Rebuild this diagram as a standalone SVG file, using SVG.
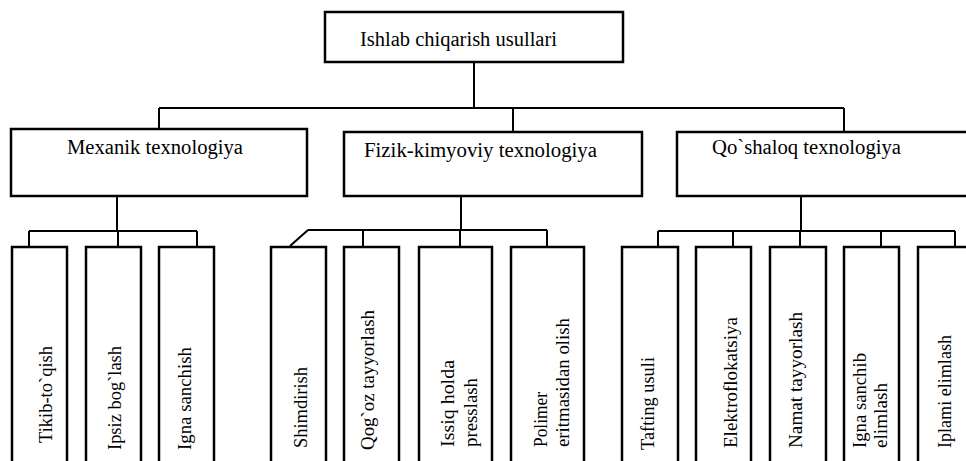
<svg xmlns="http://www.w3.org/2000/svg" width="966" height="461" viewBox="0 0 966 461">
<style>
.box{fill:#fff;stroke:#000;stroke-width:2.5}
.ln{fill:none;stroke:#000;stroke-width:2}
.t{font-family:'Liberation Serif','DejaVu Serif',serif;font-size:19px;fill:#000}
.h{font-size:20px}
</style>
<rect width="966" height="461" fill="#fff"/>
<g id="connectors" class="ln">
<path d="M474 62V108M159 108H844M159 108V129M513 108V132M844 108V132"/>
<path d="M117 196V231M29 231H197M29 231V247M118 231V247M197 231V247"/>
<path d="M461 196V230M308 230H547M308 230L290 246M363 230V247M460 230V247M547 230V247"/>
<path d="M801 196V231M658 231H955M658 231V247M733 231V247M800 231V247M881 231V247M955 231V247"/>
</g>
<g id="root"><rect class="box" x="325" y="12" width="298" height="50"/><text class="t h" x="360" y="46" textLength="197" lengthAdjust="spacingAndGlyphs">Ishlab chiqarish usullari</text></g>
<g id="mexanik"><rect class="box" x="11" y="129" width="296" height="67"/><text class="t h" x="67" y="154" textLength="176" lengthAdjust="spacingAndGlyphs">Mexanik texnologiya</text></g>
<g id="fizik"><rect class="box" x="344" y="132" width="298" height="64"/><text class="t h" x="364" y="157" textLength="233" lengthAdjust="spacingAndGlyphs">Fizik-kimyoviy texnologiya</text></g>
<g id="qoshaloq"><rect class="box" x="677" y="132" width="334" height="64"/><text class="t h" x="712" y="154" textLength="189" lengthAdjust="spacingAndGlyphs">Qo`shaloq texnologiya</text></g>
<g id="m1"><rect class="box" x="12" y="247" width="55" height="230"/><text class="t" transform="translate(52,443) rotate(-90)" textLength="97" lengthAdjust="spacingAndGlyphs">Tikib-to`qish</text></g>
<g id="m2"><rect class="box" x="86" y="247" width="55" height="230"/><text class="t" transform="translate(121,450) rotate(-90)" textLength="104" lengthAdjust="spacingAndGlyphs">Ipsiz bog`lash</text></g>
<g id="m3"><rect class="box" x="159" y="247" width="55" height="230"/><text class="t" transform="translate(191,450) rotate(-90)" textLength="103" lengthAdjust="spacingAndGlyphs">Igna sanchish</text></g>
<g id="f1"><rect class="box" x="271" y="247" width="55" height="230"/><text class="t" transform="translate(307,448) rotate(-90)" textLength="81" lengthAdjust="spacingAndGlyphs">Shimdirish</text></g>
<g id="f2"><rect class="box" x="344" y="247" width="55" height="230"/><text class="t" transform="translate(374,450) rotate(-90)" textLength="140" lengthAdjust="spacingAndGlyphs">Qog`oz tayyorlash</text></g>
<g id="f3"><rect class="box" x="419" y="247" width="73" height="230"/><text class="t" transform="translate(454,447) rotate(-90)" textLength="87" lengthAdjust="spacingAndGlyphs">Issiq holda</text><text class="t" transform="translate(477,447) rotate(-90)" textLength="69" lengthAdjust="spacingAndGlyphs">presslash</text></g>
<g id="f4"><rect class="box" x="511" y="247" width="73" height="230"/><text class="t" transform="translate(547,447) rotate(-90)" textLength="55" lengthAdjust="spacingAndGlyphs">Polimer</text><text class="t" transform="translate(569,447) rotate(-90)" textLength="129" lengthAdjust="spacingAndGlyphs">eritmasidan olish</text></g>
<g id="q1"><rect class="box" x="622" y="247" width="56" height="230"/><text class="t" transform="translate(654,450) rotate(-90)" textLength="93" lengthAdjust="spacingAndGlyphs">Tafting usuli</text></g>
<g id="q2"><rect class="box" x="696" y="247" width="55" height="230"/><text class="t" transform="translate(737,448) rotate(-90)" textLength="131" lengthAdjust="spacingAndGlyphs">Elektroflokatsiya</text></g>
<g id="q3"><rect class="box" x="770" y="247" width="56" height="230"/><text class="t" transform="translate(802,448) rotate(-90)" textLength="136" lengthAdjust="spacingAndGlyphs">Namat tayyorlash</text></g>
<g id="q4"><rect class="box" x="844" y="247" width="55" height="230"/><text class="t" transform="translate(866,448) rotate(-90)" textLength="95" lengthAdjust="spacingAndGlyphs">Igna sanchib</text><text class="t" transform="translate(887,448) rotate(-90)" textLength="65" lengthAdjust="spacingAndGlyphs">elimlash</text></g>
<g id="q5"><rect class="box" x="918" y="247" width="55" height="230"/><text class="t" transform="translate(951,448) rotate(-90)" textLength="113" lengthAdjust="spacingAndGlyphs">Iplami elimlash</text></g>
</svg>
